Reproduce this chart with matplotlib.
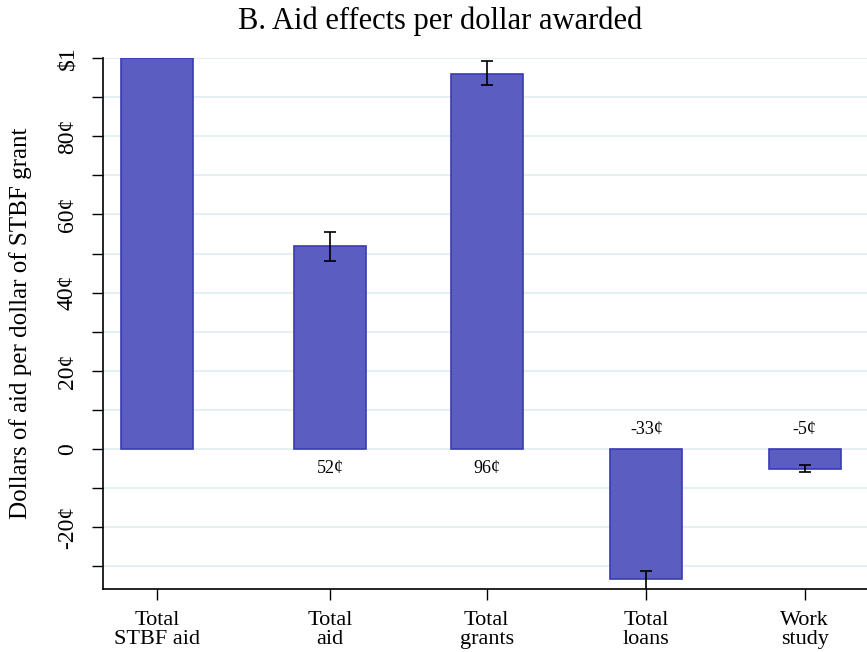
import matplotlib.pyplot as plt
from matplotlib.ticker import MultipleLocator

categories = ["Total\nSTBF aid", "Total\naid", "Total\ngrants", "Total\nloans", "Work\nstudy"]
positions = [0, 1.08, 2.06, 3.06, 4.05]
values = [1.0, 0.52, 0.96, -0.332, -0.05]
err_lo = [None, 0.482, 0.931, -0.365, -0.059]
err_hi = [None, 0.555, 0.992, -0.312, -0.041]
bar_labels = ["", "52¢", "96¢", "-33¢", "-5¢"]

ytick_vals = [-0.2, 0, 0.2, 0.4, 0.6, 0.8, 1.0]
ytick_labels = ["-20¢", "0", "20¢", "40¢", "60¢", "80¢", "$1"]

plt.rcParams['font.family'] = ['Liberation Serif', 'DejaVu Serif']

fig = plt.figure(figsize=(8.67, 6.52), dpi=100)
ax = fig.add_axes([0.1188, 0.0966, 0.8812, 0.8144])

ax.set_axisbelow(True)
ax.yaxis.grid(True, which='both', color='#e6eff1', linewidth=1.5)

ax.bar(positions, values, width=0.45, color='#5c5dc0', edgecolor='#3b3bb3', linewidth=1.2, zorder=2)

for x, lo, hi in zip(positions, err_lo, err_hi):
    if lo is None:
        continue
    ax.errorbar([x], [(lo + hi) / 2], yerr=[[(hi - lo) / 2]], fmt='none',
                ecolor='black', elinewidth=1.2, capsize=4.5, capthick=1.2, zorder=3)

for x, v, lab in zip(positions, values, bar_labels):
    if not lab:
        continue
    y = -0.05 if v > 0 else 0.05
    ax.text(x, y, lab, ha='center', va='center', fontsize=13)

ax.set_xlim(-0.34, 4.44)
ax.set_ylim(-0.358, 1.0)
ax.set_xticks(positions)
ax.set_xticklabels(categories, fontsize=16, linespacing=0.95)
ax.set_yticks(ytick_vals)
ax.set_yticklabels(ytick_labels, fontsize=17, rotation=90, va='center')
ax.yaxis.set_minor_locator(MultipleLocator(0.1))
ax.tick_params(axis='both', which='both', direction='out', length=8, width=1, color='black')
ax.tick_params(axis='y', pad=10)
ax.tick_params(axis='x', pad=8)

ax.spines['top'].set_visible(False)
ax.spines['right'].set_visible(False)
ax.spines['left'].set_linewidth(1.2)
ax.spines['bottom'].set_linewidth(1.2)

ax.set_ylabel("Dollars of aid per dollar of STBF grant", fontsize=18, labelpad=18)
fig.text(0.508, 0.968, "B. Aid effects per dollar awarded", ha='center', va='center', fontsize=22)

fig.savefig("out.png", dpi=100)
